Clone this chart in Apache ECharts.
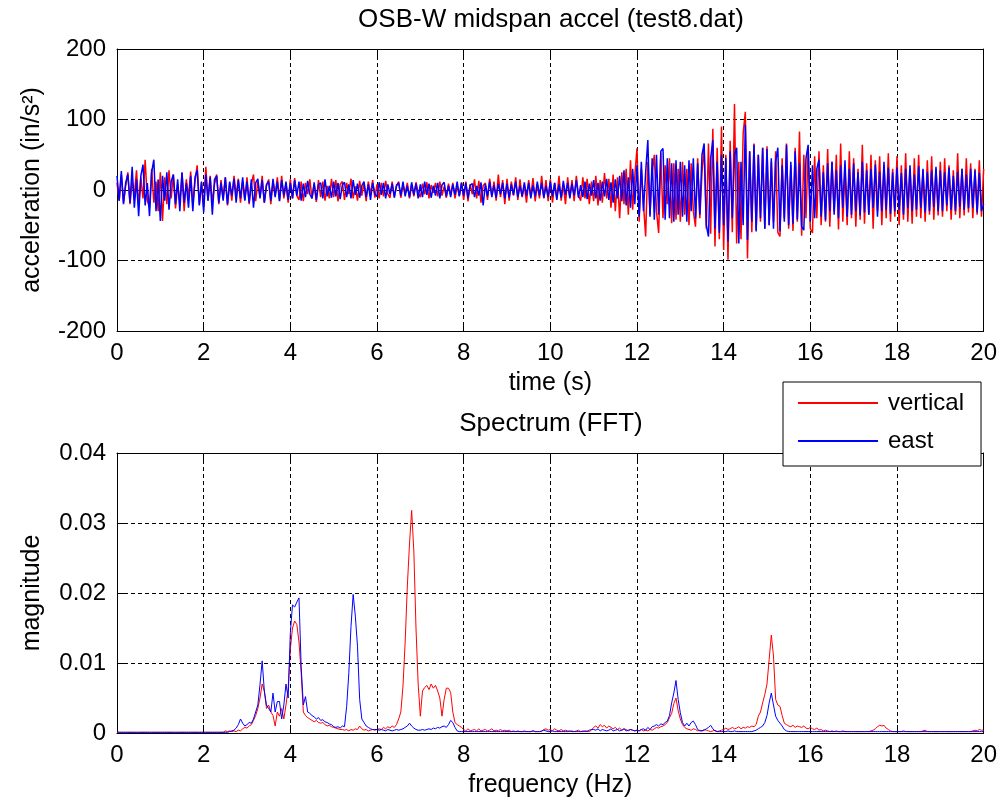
<!DOCTYPE html>
<html><head><meta charset="utf-8">
<script src="https://cdn.jsdelivr.net/npm/echarts@6/dist/echarts.min.js"></script>
<style>html,body{margin:0;padding:0;background:#fff}#c{width:1000px;height:806px}</style>
</head><body><div id="c"></div>
<script>
// ---- data ----
const timeStep = 0.05;   // s between samples
const freqStep = 0.05;   // Hz between FFT bins
const xTickValues = [0, 2, 4, 6, 8, 10, 12, 14, 16, 18, 20];
const accelTicks = [-200, -100, 0, 100, 200];
const magTicks = [0, 0.01, 0.02, 0.03, 0.04];
const seriesNames = ['vertical', 'east'];

// acceleration (in/s^2), vertical channel
const accelVertical = [
10,-15,22,-18,6,25,-20,12,-8,28,-22,18,-12,43,-15,-25,30,-18,12,-30,
25,-44,18,-20,28,-12,22,-26,8,-18,24,-30,15,-10,26,-22,12,35,-20,10,
-24,33,-15,20,-18,8,22,-20,14,-12,18,-22,10,-15,20,-8,16,-18,12,-14,
18,-20,8,22,-16,12,-10,20,-18,6,15,-20,12,-8,18,-15,20,-12,8,-18,
15,-12,17,-8,-14,12,-16,10,-6,15,-12,8,-17,14,-10,12,-15,6,-12,16,
-10,14,-16,8,12,-14,10,-6,16,-12,5,-15,13,-8,10,-16,12,-6,14,-11,
8,-12,10,-9,13,-6,-11,12,-9,5,12,-11,7,-5,10,-12,8,-9,11,-4,
-10,9,-6,11,-12,7,-4,10,-9,12,-8,5,-11,9,-7,10,-12,6,-8,11,
-14,12,-16,8,-6,15,-12,13,-18,6,10,-14,16,-8,12,-15,22,-10,14,-20,
16,-15,12,-8,18,-14,15,-10,6,-18,14,-9,17,-16,8,-12,20,-12,14,-16,
15,-18,10,-12,20,-15,8,-20,18,-10,14,-16,20,-8,-15,18,-12,16,-20,12,
-16,20,-22,14,-18,24,-12,16,-25,22,-30,18,-40,25,-20,30,-35,42,-28,20,
59,-45,30,-20,-66,40,-35,25,50,-30,-61,52,-40,35,-20,45,-47,38,-42,30,
-45,40,-35,30,-50,38,-30,-52,45,-40,25,60,-55,66,-62,87,-80,60,-70,90,
-85,50,-99,70,-60,122,-76,40,-70,80,111,-97,55,-60,66,-57,50,-45,60,-55,
62,-50,40,-45,55,-60,-66,45,-40,66,-55,35,-58,60,-45,83,-65,50,-40,61,
-55,-61,48,-40,55,-50,35,-45,58,-52,40,-30,50,-56,66,-45,30,-50,55,-40,
45,-52,30,-42,64,-48,38,-35,50,-55,42,-30,48,-50,35,-40,52,-45,30,-38,
48,-50,35,-42,52,-45,30,-48,45,-38,50,-40,28,-45,42,-35,48,-42,30,-36,
40,-38,45,-30,35,-42,28,-35,52,-40,30,-36,45,-32,38,-40,30,-35,42,-38,
30];

// acceleration (in/s^2), east channel
const accelEast = [
20,-15,27,-20,10,22,-18,33,-25,15,-37,20,36,-22,10,-37,25,43,-30,15,
-44,20,-15,25,-28,12,22,-20,15,-30,25,-18,10,-25,20,-30,18,28,-22,12,
-32,22,-15,18,-35,15,20,-18,10,-15,18,-20,12,-8,16,-18,14,-12,18,-15,
12,-18,15,-25,10,16,-12,14,-18,8,12,-15,16,-10,12,-16,14,-8,12,-14,
10,-12,14,-8,12,-15,9,-10,13,-6,-12,11,-14,8,10,-12,15,-9,6,-11,
12,-9,10,-13,7,11,-10,8,-12,14,-7,9,-11,6,12,-10,8,-14,10,-6,
-9,11,-7,10,-12,8,-6,9,-11,7,10,-8,12,-9,6,-10,11,-7,9,-12,
8,-10,12,-7,9,-11,6,-8,10,-12,7,11,-9,6,-10,8,-7,12,-9,10,
-8,10,-12,7,9,-10,6,-8,11,-22,8,-9,12,-10,7,-11,9,-6,10,-12,
9,-11,8,-7,12,-10,6,-9,11,-8,10,-12,7,-9,12,-8,10,-11,6,-10,
12,-9,10,-14,8,-11,13,-7,10,-12,9,-8,14,-11,7,-10,12,-13,9,-8,
14,-12,10,-15,12,-9,16,-14,11,-18,15,-12,20,-16,28,-22,18,-25,30,-20,
35,-38,40,-30,25,71,-38,45,-42,50,-35,55,59,-42,45,-40,38,-45,42,-35,
40,-38,35,-45,42,-30,45,-40,38,-35,50,66,-50,-66,45,71,-55,40,-61,50,
-50,45,-73,55,-40,50,60,-76,40,-50,92,-71,55,-45,64,-59,50,-40,60,-55,
58,-50,45,-55,40,60,-59,35,-45,64,-50,40,-48,55,-42,38,-52,-57,45,64,
-45,35,-40,30,43,-38,25,-43,38,-30,40,-35,28,-40,35,-25,42,-38,30,-35,
38,-30,25,-36,40,-32,28,-35,30,-25,36,-38,26,-30,40,-28,32,-34,25,-30,
32,-28,24,-35,30,-26,35,-30,22,-28,34,-25,30,-32,26,-30,28,-24,33,-30,
28,-30,25,-22,32,-28,20,-30,26,-24,30,-28,22,-26,30,-25,28,-32,24,-30,
-20];

// FFT magnitude, in thousandths (x 0.001), vertical channel
const specVerticalMilli = [
0.1,0.1,0.1,0.1,0.1,0.1,0.1,0.1,0.1,0.1,0.1,0.1,0.1,0.1,0.1,0.1,0.1,0.1,0.1,0.1,
0.1,0.1,0.1,0.1,0.1,0.1,0.1,0.1,0.1,0.1,0.1,0.1,0.1,0.1,0.1,0.1,0.1,0.1,0.1,0.1,
0.1,0.1,0.1,0.1,0.1,0.1,0.1,0.1,0.1,0.1,0.3,0.2,0.3,0.2,0.3,0.2,0.4,0.3,0.6,0.8,
0.7,1.0,1.2,1.8,2.5,3.5,5.0,7.0,6.0,3.5,4.0,3.0,2.5,1.0,3.0,2.4,3.5,2.0,4.0,6.4,
12.0,15.0,16.0,15.5,13.0,8.6,3.0,2.5,2.2,2.0,1.8,1.6,1.8,1.5,1.4,1.5,1.2,1.0,1.1,0.9,
0.8,0.7,0.6,0.5,0.5,0.4,0.5,0.3,0.5,0.4,0.6,0.5,1.0,0.6,0.4,0.5,0.3,0.4,0.5,0.4,
0.5,0.6,0.5,0.8,0.6,0.9,0.7,1.0,0.8,1.2,2.0,3.0,6.7,13.0,21.0,27.0,31.8,26.0,15.0,7.0,
2.4,6.0,6.5,6.8,6.2,7.0,6.4,6.8,6.0,5.0,2.4,4.8,6.4,6.4,5.8,3.0,1.5,1.2,1.0,0.8,
0.5,0.3,0.6,0.3,0.4,0.5,0.3,0.6,0.3,0.4,0.5,0.3,0.4,0.6,0.3,0.4,0.3,0.5,0.3,0.4,
0.3,0.4,0.2,0.3,0.2,0.3,0.2,0.2,0.3,0.2,0.2,0.2,0.3,0.2,0.2,0.2,0.2,0.5,0.6,0.4,
0.5,0.3,0.6,0.4,0.3,0.5,0.3,0.4,0.3,0.2,0.3,0.2,0.3,0.4,0.2,0.3,0.2,0.3,0.2,0.4,
0.8,1.0,0.7,1.2,0.9,1.1,0.7,1.0,0.8,0.6,0.8,0.5,0.7,0.4,0.6,0.5,0.3,0.5,0.4,0.3,
0.4,0.3,0.5,0.3,0.4,0.3,0.5,0.4,0.6,0.8,0.7,0.9,1.0,1.2,1.5,2.2,2.8,4.2,5.0,3.2,
2.0,1.2,0.8,0.6,0.5,0.4,0.6,0.5,0.3,0.4,0.3,0.5,0.4,0.3,0.2,0.3,0.4,0.2,0.3,0.4,
0.5,0.7,0.5,0.6,0.8,0.6,0.7,0.9,0.6,0.8,0.7,0.9,0.8,1.0,0.9,1.2,2.4,3.0,4.3,5.5,
7.0,10.5,14.0,11.0,4.8,4.0,3.8,2.5,1.4,1.2,1.0,0.9,1.1,0.8,1.0,0.9,0.8,1.0,0.7,0.6,
0.8,0.6,0.5,0.7,0.4,0.5,0.3,0.4,0.3,0.2,0.3,0.2,0.3,0.2,0.2,0.3,0.2,0.2,0.2,0.2,
0.2,0.2,0.2,0.2,0.2,0.2,0.2,0.2,0.3,0.4,0.6,0.9,1.1,1.0,1.1,0.7,0.5,0.3,0.2,0.2,
0.2,0.2,0.2,0.3,0.2,0.2,0.2,0.2,0.2,0.2,0.2,0.2,0.3,0.4,0.2,0.2,0.2,0.2,0.2,0.2,
0.2,0.2,0.2,0.2,0.2,0.2,0.2,0.2,0.2,0.2,0.2,0.2,0.2,0.2,0.2,0.3,0.4,0.3,0.5,0.4,
0.4];

// FFT magnitude, in thousandths (x 0.001), east channel
const specEastMilli = [
0.2,0.1,0.1,0.1,0.1,0.1,0.1,0.1,0.1,0.1,0.1,0.1,0.1,0.1,0.1,0.1,0.1,0.1,0.1,0.1,
0.1,0.1,0.1,0.1,0.1,0.1,0.1,0.1,0.1,0.1,0.1,0.1,0.1,0.1,0.1,0.1,0.1,0.1,0.1,0.1,
0.1,0.1,0.1,0.1,0.1,0.1,0.1,0.1,0.1,0.1,0.1,0.1,0.2,0.3,0.4,0.7,1.2,2.0,1.4,1.0,
1.2,1.5,1.4,2.0,3.0,4.0,6.9,10.3,6.0,4.0,3.5,3.0,5.7,3.0,4.5,4.5,2.0,4.0,7.0,5.0,
14.3,18.3,18.0,18.7,19.3,9.5,4.0,5.2,3.0,2.8,2.5,2.3,2.0,2.2,1.8,1.9,1.6,1.5,1.3,1.2,
0.9,0.8,0.9,0.7,1.0,0.9,3.8,8.6,15.2,19.8,16.7,12.4,4.8,2.0,1.5,1.0,0.8,0.6,0.5,0.5,
0.5,0.4,0.5,0.4,0.3,0.5,0.4,0.3,0.4,0.5,0.4,0.5,0.6,0.8,1.0,1.4,1.0,0.7,0.5,0.4,
0.4,0.5,0.4,0.5,0.6,0.5,0.7,0.6,0.8,0.7,0.9,1.0,0.8,1.2,1.8,1.5,0.8,0.3,0.2,0.2,
0.2,0.2,0.2,0.2,0.2,0.2,0.2,0.2,0.2,0.2,0.2,0.2,0.2,0.2,0.2,0.2,0.2,0.2,0.2,0.2,
0.2,0.2,0.2,0.2,0.2,0.2,0.2,0.2,0.2,0.2,0.2,0.2,0.3,0.2,0.2,0.2,0.3,0.4,0.3,0.2,
0.2,0.3,0.2,0.2,0.2,0.2,0.2,0.2,0.2,0.3,0.2,0.2,0.2,0.2,0.2,0.2,0.3,0.2,0.4,0.5,
0.5,0.4,0.6,0.3,0.5,0.4,0.3,0.4,0.6,0.3,0.4,0.5,0.3,0.4,0.6,0.3,0.4,0.5,0.4,0.3,
0.4,0.3,0.5,0.6,0.4,0.8,0.5,0.9,1.0,1.2,1.0,1.3,1.2,1.5,1.7,2.5,4.3,5.7,7.5,4.8,
2.9,1.5,1.0,1.4,1.0,1.5,1.7,1.2,0.5,0.3,0.3,0.4,0.6,0.8,1.1,0.6,0.3,0.2,0.2,0.2,
0.2,0.2,0.3,0.2,0.2,0.3,0.2,0.2,0.2,0.2,0.2,0.2,0.2,0.2,0.3,0.4,0.6,0.8,1.0,1.5,
2.5,4.3,5.7,4.0,2.4,1.8,1.4,1.0,0.5,0.3,0.2,0.2,0.2,0.2,0.2,0.2,0.2,0.2,0.2,0.2,
0.2,0.2,0.2,0.2,0.2,0.2,0.2,0.2,0.2,0.2,0.2,0.2,0.2,0.2,0.2,0.2,0.2,0.2,0.2,0.2,
0.2,0.2,0.2,0.2,0.2,0.2,0.2,0.2,0.2,0.2,0.2,0.2,0.2,0.2,0.2,0.2,0.2,0.2,0.2,0.2,
0.2,0.2,0.2,0.2,0.2,0.2,0.2,0.2,0.2,0.2,0.2,0.2,0.2,0.2,0.2,0.2,0.2,0.2,0.2,0.2,
0.2,0.2,0.2,0.2,0.2,0.2,0.2,0.2,0.2,0.2,0.2,0.2,0.2,0.2,0.2,0.2,0.2,0.2,0.2,0.2,
0.2];

// ---- build ----
const toPairs = (arr, step, scale) => arr.map((v, i) => [+(i * step).toFixed(3), v * scale]);
const FONT = '"Liberation Sans", Arial, Helvetica, sans-serif';
const txt = { color: '#000', fontFamily: FONT, fontSize: 24 };
const nameTxt = { color: '#000', fontFamily: FONT, fontSize: 25 };
const dash = { color: '#000', type: [4, 3], width: 1 };

function xAx(grid, pos, name) {
  const main = pos === 'bottom';
  return {
    type: 'value', gridIndex: grid, position: pos,
    min: xTickValues[0], max: xTickValues[xTickValues.length - 1], interval: xTickValues[1] - xTickValues[0],
    name: main ? name : '', nameLocation: 'middle', nameGap: 40, nameTextStyle: nameTxt,
    axisLine: { show: true, onZero: false, lineStyle: { color: '#000', width: 1 } },
    axisTick: { show: true, inside: true, length: 8, lineStyle: { color: '#000' } },
    axisLabel: Object.assign({ show: main, margin: 10 }, txt),
    splitLine: { show: main, lineStyle: dash }
  };
}
function yAx(grid, pos, name, ticks) {
  const main = pos === 'left';
  return {
    type: 'value', gridIndex: grid, position: pos,
    min: ticks[0], max: ticks[ticks.length - 1], interval: ticks[1] - ticks[0],
    name: main ? name : '', nameLocation: 'middle', nameGap: 72, nameTextStyle: nameTxt,
    axisLine: { show: true, onZero: false, lineStyle: { color: '#000', width: 1 } },
    axisTick: { show: true, inside: true, length: 8, lineStyle: { color: '#000' } },
    axisLabel: Object.assign({ show: main, margin: 11 }, txt),
    splitLine: { show: main, lineStyle: dash }
  };
}
function line(name, color, xi, yi, data, z, w) {
  return {
    type: 'line', name, xAxisIndex: xi, yAxisIndex: yi, data,
    symbol: 'none', showSymbol: false, animation: false, z,
    lineStyle: { color, width: w }, itemStyle: { color }
  };
}

const chart = echarts.init(document.getElementById('c'));
chart.setOption({
  backgroundColor: '#fff',
  animation: false,
  grid: [
    { left: 117, top: 49, width: 869, height: 282 },
    { left: 117, top: 453, width: 869, height: 280 }
  ],
  xAxis: [xAx(0, 'bottom', 'time (s)'), xAx(1, 'bottom', 'frequency (Hz)'), xAx(0, 'top'), xAx(1, 'top')],
  yAxis: [yAx(0, 'left', 'acceleration (in/s²)', accelTicks), yAx(1, 'left', 'magnitude', magTicks),
          yAx(0, 'right', '', accelTicks), yAx(1, 'right', '', magTicks)],
  legend: {
    data: seriesNames, orient: 'vertical', left: 783, top: 382,
    icon: 'rect', itemWidth: 80, itemHeight: 2, itemGap: 14,
    padding: [9, 17, 13, 15],
    backgroundColor: '#fff', borderColor: '#000', borderWidth: 1, borderRadius: 0,
    textStyle: { color: '#000', fontFamily: FONT, fontSize: 24, padding: [0, 0, 0, 5], lineHeight: 24 },
    selectedMode: false
  },
  graphic: [
    { type: 'text', x: 551, y: 20, z: 10,
      style: { text: 'OSB-W midspan accel (test8.dat)', fill: '#000', fontFamily: FONT, fontSize: 26, align: 'center', verticalAlign: 'middle' } },
    { type: 'text', x: 551, y: 424, z: 10,
      style: { text: 'Spectrum (FFT)', fill: '#000', fontFamily: FONT, fontSize: 26, align: 'center', verticalAlign: 'middle' } }
  ],
  series: [
    line(seriesNames[0], '#ff0000', 0, 0, toPairs(accelVertical, timeStep, 1), 2, 1.5),
    line(seriesNames[1], '#0000ff', 0, 0, toPairs(accelEast, timeStep, 1), 3, 1.5),
    line(seriesNames[0], '#ff0000', 1, 1, toPairs(specVerticalMilli, freqStep, 0.001), 2, 1),
    line(seriesNames[1], '#0000ff', 1, 1, toPairs(specEastMilli, freqStep, 0.001), 3, 1)
  ]
});
</script>
</body></html>
